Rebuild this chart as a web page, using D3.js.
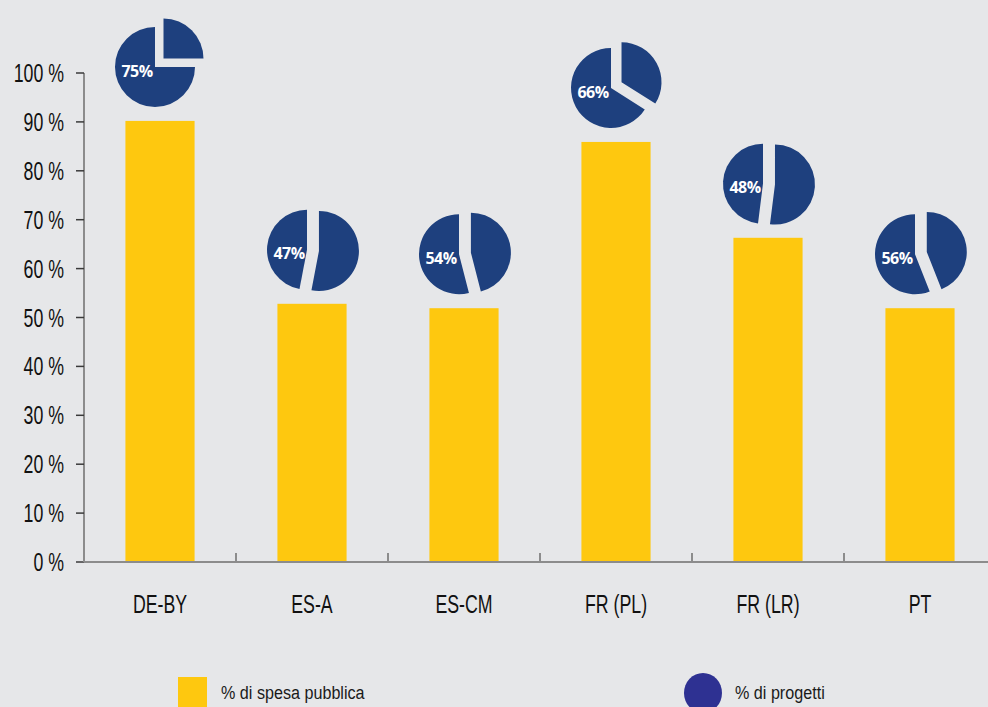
<!DOCTYPE html>
<html>
<head>
<meta charset="utf-8">
<script src="https://cdn.jsdelivr.net/npm/d3@7"></script>
<style>
  html, body { margin: 0; padding: 0; background: #e6e7e9; }
  svg { display: block; }
</style>
</head>
<body>
<main></main>
<script>
var categories = ['DE-BY', 'ES-A', 'ES-CM', 'FR (PL)', 'FR (LR)', 'PT'];
var spesaPubblica = [90.2, 52.8, 51.9, 85.9, 66.3, 51.9];   // % di spesa pubblica (bars)
var progetti = [75, 47, 54, 66, 48, 56];                      // % di progetti (pies)
var yTicks = [0, 10, 20, 30, 40, 50, 60, 70, 80, 90, 100];
var legendLabels = ['% di spesa pubblica', '% di progetti'];

var width = 988, height = 707;
var yellow = '#fec80f', blue = '#1e407e', legendBlue = '#2e3192';
// no condensed font installed, so squeeze Liberation Sans horizontally
var axisFont = '"Liberation Sans", Arial, sans-serif';
var squeeze = 0.71;

var svg = d3.select('main').append('svg')
  .attr('width', width)
  .attr('height', height);

svg.append('rect')
  .attr('width', width)
  .attr('height', height)
  .attr('fill', '#e6e7e9');

var x = d3.scaleBand()
  .domain(categories)
  .range([84, 996]);

var y = d3.scaleLinear()
  .domain([0, 100])
  .range([562, 73]);

// y axis
var yAxis = svg.append('g');
yAxis.append('line')
  .attr('x1', 84).attr('x2', 84)
  .attr('y1', y(100)).attr('y2', y(0))
  .attr('stroke', '#8c8c8c')
  .attr('stroke-width', 2);

yAxis.selectAll('line.tick')
  .data(yTicks)
  .enter().append('line')
  .attr('class', 'tick')
  .attr('x1', 76).attr('x2', 84)
  .attr('y1', function(d) { return y(d); })
  .attr('y2', function(d) { return y(d); })
  .attr('stroke', '#3a3a3a')
  .attr('stroke-width', 1.5);

yAxis.selectAll('text')
  .data(yTicks)
  .enter().append('text')
  .attr('transform', function(d) { return 'translate(64,' + y(d) + ') scale(' + squeeze + ',1)'; })
  .attr('dy', '0.36em')
  .attr('text-anchor', 'end')
  .style('font-family', axisFont)
  .style('font-size', '25px')
  .attr('fill', '#111')
  .text(function(d) { return d + ' %'; });

// bars
var barW = x.bandwidth() * 0.455;
svg.selectAll('rect.bar')
  .data(spesaPubblica)
  .enter().append('rect')
  .attr('class', 'bar')
  .attr('x', function(d, i) { return x(categories[i]) + x.bandwidth() / 2 - barW / 2; })
  .attr('y', function(d) { return y(d); })
  .attr('width', barW)
  .attr('height', function(d) { return y(0) - y(d); })
  .attr('fill', yellow);

// x axis
var xAxis = svg.append('g');
xAxis.append('line')
  .attr('x1', 84).attr('x2', 996)
  .attr('y1', y(0)).attr('y2', y(0))
  .attr('stroke', '#8c8c8c')
  .attr('stroke-width', 2);

var bounds = categories.map(function(c) { return x(c); }).concat([x.range()[1]]);
xAxis.selectAll('line.tick')
  .data(bounds)
  .enter().append('line')
  .attr('class', 'tick')
  .attr('x1', function(d) { return d; })
  .attr('x2', function(d) { return d; })
  .attr('y1', y(0) - 9).attr('y2', y(0))
  .attr('stroke', '#8c8c8c')
  .attr('stroke-width', 2);

xAxis.selectAll('text')
  .data(categories)
  .enter().append('text')
  .attr('transform', function(d) {
    return 'translate(' + (x(d) + x.bandwidth() / 2) + ',613) scale(' + squeeze + ',1)';
  })
  .attr('text-anchor', 'middle')
  .style('font-family', axisFont)
  .style('font-size', '25px')
  .attr('fill', '#111')
  .text(function(d) { return d; });

// pies
var r = 40;
var explode = 12;
var pie = d3.pie().sort(null).value(function(d) { return d; });
var arc = d3.arc().innerRadius(0).outerRadius(r);

progetti.forEach(function(v, i) {
  var cx = x(categories[i]) + x.bandwidth() / 2 - 5;
  var cy = y(spesaPubblica[i]) - 14 - r;
  var g = svg.append('g').attr('transform', 'translate(' + cx + ',' + cy + ')');
  var slices = pie([100 - v, v]);
  g.selectAll('path')
    .data(slices)
    .enter().append('path')
    .attr('d', arc)
    .attr('fill', blue)
    .attr('transform', function(d, j) {
      if (j !== 0) return null;
      var a = (d.startAngle + d.endAngle) / 2;
      return 'translate(' + (Math.sin(a) * explode) + ',' + (-Math.cos(a) * explode) + ')';
    });
  g.append('text')
    .attr('x', -18)
    .attr('y', 4)
    .attr('dy', '0.35em')
    .attr('text-anchor', 'middle')
    .style('font-family', '"Open Sans", sans-serif')
    .style('font-weight', 700)
    .style('font-size', '16px')
    .style('letter-spacing', '-0.6px')
    .attr('fill', '#ffffff')
    .text(v + '%');
});

// legend
svg.append('rect')
  .attr('x', 178).attr('y', 677)
  .attr('width', 29).attr('height', 32)
  .attr('fill', yellow);
svg.append('ellipse')
  .attr('cx', 703).attr('cy', 693)
  .attr('rx', 19).attr('ry', 20)
  .attr('fill', legendBlue);

svg.selectAll('text.legend')
  .data(legendLabels)
  .enter().append('text')
  .attr('class', 'legend')
  .attr('transform', function(d, i) { return 'translate(' + (i === 0 ? 221 : 735) + ',699) scale(0.85,1)'; })
  .style('font-family', '"Liberation Sans", Arial, sans-serif')
  .style('font-size', '19px')
  .attr('fill', '#1a1a1a')
  .text(function(d) { return d; });
</script>
</body>
</html>
